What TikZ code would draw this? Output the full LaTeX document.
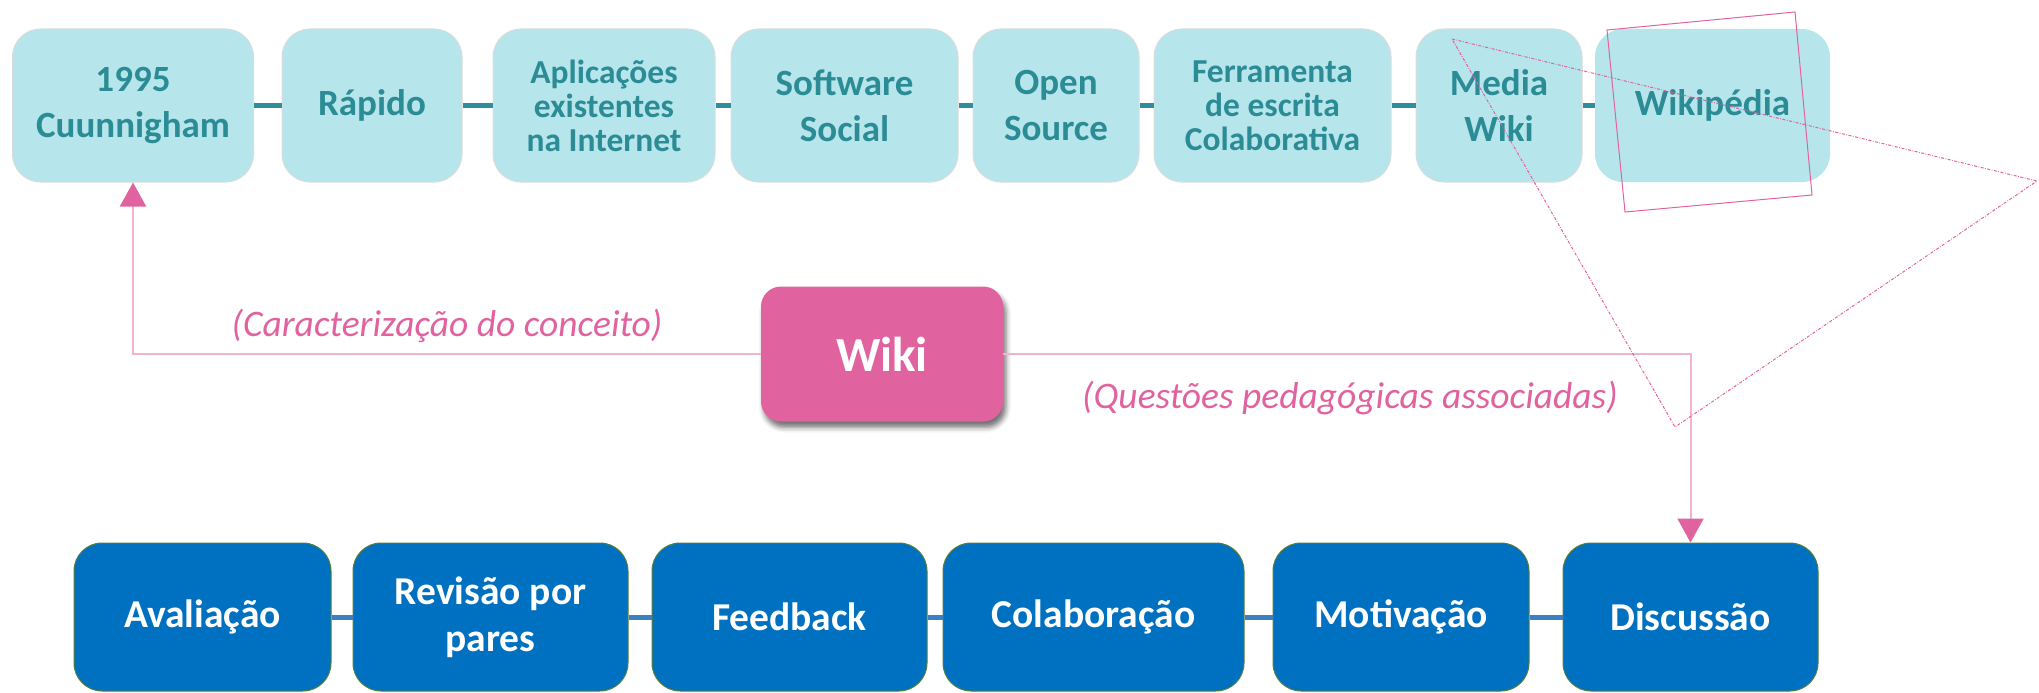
\documentclass[tikz,border=0pt]{standalone}
\usepackage{fontspec}
\setmainfont{Carlito}
\usetikzlibrary{arrows.meta,shadows.blur}
\definecolor{topfill}{HTML}{B6E6EB}
\definecolor{topdraw}{HTML}{D9DCDC}
\definecolor{toptext}{HTML}{2B8C96}
\definecolor{topline}{HTML}{2E8E9B}
\definecolor{pinkc}{HTML}{E0629E}
\definecolor{pinkline}{HTML}{F2B3CF}
\definecolor{bluefill}{HTML}{0070C0}
\definecolor{bluedraw}{HTML}{557F3A}
\definecolor{blueline}{HTML}{3A80C2}
\begin{document}
\begin{tikzpicture}[x=1pt,y=-1pt,
  topbox/.style={draw=topdraw, line width=1pt, fill=topfill, rounded corners=28pt, inner sep=0pt, align=center, text=toptext, minimum height=153pt, font=\bfseries\fontsize{37}{46}\selectfont},
  topthree/.style={font=\bfseries\fontsize{33.5}{34}\selectfont},
  botbox/.style={draw=bluedraw, line width=1pt, fill=bluefill, rounded corners=28pt, inner sep=0pt, align=center, text=white, minimum height=148pt, font=\bfseries\fontsize{39.5}{47}\selectfont},
  topconn/.style={draw=topline, line width=5pt},
  botconn/.style={draw=blueline, line width=5pt},
  pinkconn/.style={draw=pinkline, line width=2pt, -{Triangle[width=26pt,length=24pt,color=pinkc]}},
  lab/.style={text=pinkc, inner sep=0pt, font=\itshape\fontsize{37.5}{37.5}\selectfont},
  wikibox/.style={fill=pinkc, rounded corners=20pt, inner sep=0pt, text=white, minimum width=242pt, minimum height=135pt, font=\bfseries\fontsize{49}{49}\selectfont, blur shadow={shadow xshift=3pt, shadow yshift=-6pt, shadow blur radius=5pt, shadow opacity=55}},
  deco/.style={draw=pinkc, line width=1pt}
]
\useasboundingbox (0,0) rectangle (2039,693);

% top row
\node[topbox, minimum width=241pt] (b1) at (133,105.5) {1995\\Cuunnigham};
\node[topbox, minimum width=180pt] (b2) at (372,105.5) {Rápido};
\node[topbox, topthree, minimum width=222pt] (b3) at (604,105.5) {Aplicações\\existentes\\na Internet};
\node[topbox, minimum width=227pt] (b4) at (844.5,105.5) {Software\\Social};
\node[topbox, minimum width=166pt] (b5) at (1056,105.5) {Open\\Source};
\node[topbox, topthree, minimum width=237pt] (b6) at (1272.5,105.5) {Ferramenta\\de escrita\\Colaborativa};
\node[topbox, minimum width=166pt] (b7) at (1499,105.5) {Media\\Wiki};
\node[topbox, minimum width=235pt, draw=none] (b8) at (1712.5,105.5) {Wikipédia};

\draw[topconn] (b1.east) -- (b2.west);
\draw[topconn] (b2.east) -- (b3.west);
\draw[topconn] (b3.east) -- (b4.west);
\draw[topconn] (b4.east) -- (b5.west);
\draw[topconn] (b5.east) -- (b6.west);
\draw[topconn] (b6.east) -- (b7.west);
\draw[topconn] (b7.east) -- (b8.west);

% bottom row
\node[botbox, minimum width=257pt] (c1) at (202.5,617) {Avaliação};
\node[botbox, minimum width=275pt] (c2) at (490.5,617) {Revisão por\\pares};
\node[botbox, minimum width=275pt] (c3) at (789.5,617) {Feedback};
\node[botbox, minimum width=301pt] (c4) at (1093.5,617) {Colaboração};
\node[botbox, minimum width=256pt] (c5) at (1401,617) {Motivação};
\node[botbox, minimum width=255pt] (c6) at (1690.5,617) {Discussão};

\draw[botconn] (c1.east) -- (c2.west);
\draw[botconn] (c2.east) -- (c3.west);
\draw[botconn] (c3.east) -- (c4.west);
\draw[botconn] (c4.east) -- (c5.west);
\draw[botconn] (c5.east) -- (c6.west);

% centre
\node[wikibox] (wiki) at (882,354) {Wiki};
\draw[pinkconn] (wiki.west) -| (b1.south);
\draw[pinkconn] (wiki.east) -| (c6.north);
\node[lab] (l1) at (447,326) {(Caracterização do conceito)};
\node[lab] (l2) at (1350,398) {(Questões pedagógicas associadas)};

% decorative outlines
\draw[deco] (1607,30) -- (1795,12) -- (1812,195) -- (1625,212) -- cycle;
\draw[deco, dash pattern=on 3pt off 1.5pt on 0.8pt off 1.5pt] (1452,39) -- (2037,181) -- (1675,427) -- cycle;
\end{tikzpicture}
\end{document}
